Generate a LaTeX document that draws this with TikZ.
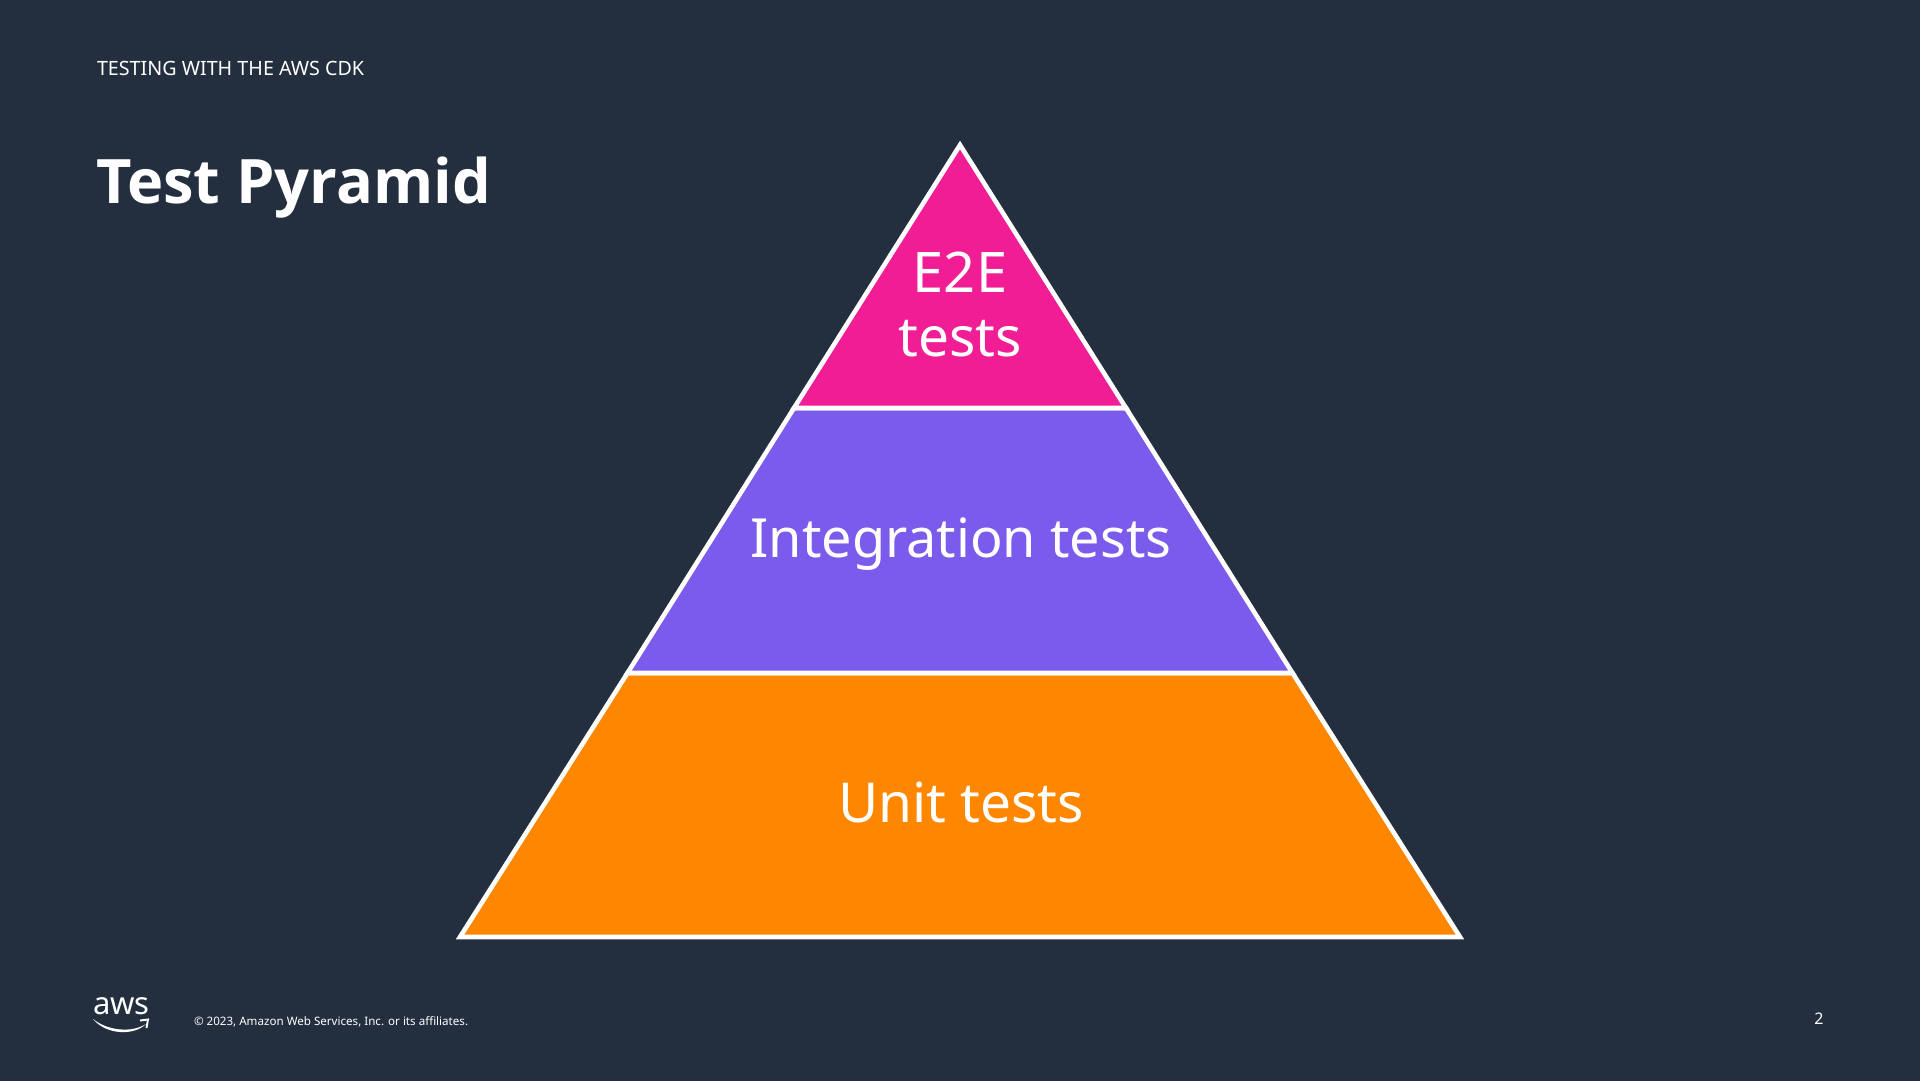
\documentclass[tikz,border=0pt]{standalone}
\usepackage{fontspec}
\setmainfont{Noto Sans}
\newfontfamily\titlefont{Open Sans}
\definecolor{bgc}{HTML}{232F3E}
\definecolor{pinkc}{HTML}{F01D94}
\definecolor{purplec}{HTML}{7B5BEB}
\definecolor{orangec}{HTML}{FF8700}
\tikzset{
  band/.style={draw=white,line width=4.6pt,line join=miter,miter limit=10},
  label/.style={text=white,inner sep=0pt,outer sep=0pt,align=center},
  lefttext/.style={text=white,inner sep=0pt,outer sep=0pt,anchor=base west},
  bigtext/.style={label,anchor=base,font=\fontsize{54}{65}\selectfont}
}
\begin{document}
\begin{tikzpicture}[x=1pt,y=-1pt]
\useasboundingbox (0,0) rectangle (1920,1080);
\fill[bgc] (-3,-3) rectangle (1923,1083);
\draw[band,fill=orangec] (627.5,673) -- (1292.5,673) -- (1460,937) -- (460,937) -- cycle;
\draw[band,fill=purplec] (794,408) -- (1126,408) -- (1292.5,673) -- (627.5,673) -- cycle;
\draw[band,fill=pinkc] (960,145) -- (1126,408) -- (794,408) -- cycle;
\node[bigtext,font=\fontsize{56}{65}\selectfont] (e2e) at (960,292) {E2E};
\node[bigtext,font=\fontsize{55}{65}\selectfont] (etests) at (960,356.5) {tests};
\node[bigtext] (integ) at (961,557) {Integration tests};
\node[bigtext,font=\fontsize{55}{65}\selectfont] (unit) at (961,822) {Unit tests};
\node[lefttext,font=\fontsize{19.7}{24}\selectfont] (kicker) at (97,75) {TESTING WITH THE AWS CDK};
\node[lefttext,font=\titlefont\fontsize{61.3}{70}\selectfont\bfseries] (title) at (96,203) {Test Pyramid};
\node[lefttext,font=\fontsize{11.6}{14}\selectfont] (copy) at (194,1025) {© 2023, Amazon Web Services, Inc. or its affiliates.};
\node[label,anchor=base,font=\fontsize{16}{20}\selectfont] (page) at (1819,1024) {2};
\node[label,anchor=base,font=\fontsize{31}{34}\selectfont] (aws) at (121.5,1014) {aws};
\fill[white] (93,1019) .. controls (108,1031) and (132,1033) .. (146,1024)
  .. controls (134,1036) and (106,1035) .. cycle;
\draw[white,line width=1.9pt] (140,1020.5) -- (148,1019.5) -- (146.5,1028);
\end{tikzpicture}
\end{document}
